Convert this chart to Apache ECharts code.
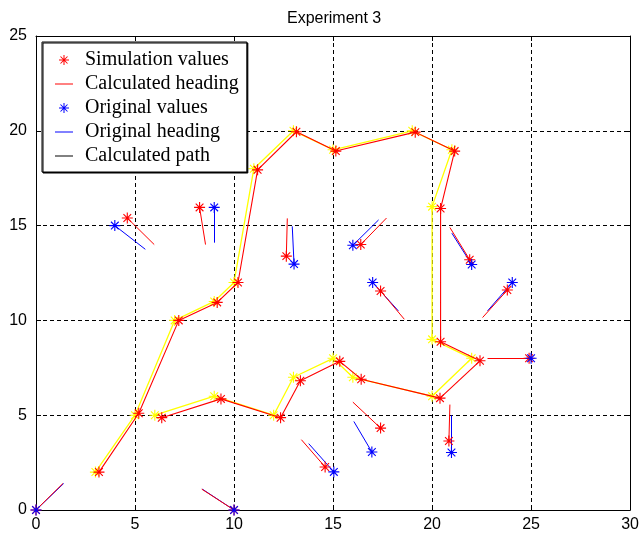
<!DOCTYPE html>
<html><head><meta charset="utf-8">
<script src="https://cdn.jsdelivr.net/npm/echarts@6/dist/echarts.min.js"></script>
<style>html,body{margin:0;padding:0;background:#fff}#c{width:642px;height:535px}</style>
</head><body><div id="c"></div>
<script>
const xTicks = [0, 5, 10, 15, 20, 25, 30];
const yTicks = [0, 5, 10, 15, 20, 25];

// Calculated path (yellow)
const pathX = [3, 5, 7, 9, 10, 11, 13, 15, 19, 21, 20, 20, 22, 20, 16, 15, 13, 12, 9, 6];
const pathY = [2, 5, 10, 11, 12, 18, 20, 19, 20, 19, 16, 9, 8, 6, 7, 8, 7, 5, 6, 5];

// Simulated path (red, joined)
const simPathX = [3.18, 5.19, 7.21, 9.15, 10.2, 11.19, 13.15, 15.14, 19.15, 21.14, 20.43, 20.43, 22.42, 20.4, 16.42, 15.34, 13.35, 12.35, 9.34, 6.35];
const simPathY = [2.0, 5.1, 10.0, 10.95, 12.0, 17.94, 19.95, 18.93, 19.93, 18.93, 15.9, 8.87, 7.87, 5.9, 6.9, 7.84, 6.82, 4.87, 5.86, 4.87];

// Simulation values (isolated) and their calculated heading ends
const simX = [4.61, 8.26, 12.64, 16.4, 21.9, 17.4, 23.8, 17.4, 14.6, 20.85, 24.9, 0, 10];
const simY = [15.4, 15.96, 13.39, 14.0, 13.2, 11.55, 11.6, 4.32, 2.27, 3.64, 8.0, 0, 0];
const simHeadX = [5.97, 8.56, 12.69, 17.7, 20.9, 18.6, 22.55, 16.0, 13.4, 20.9, 22.8, 1.36, 8.37];
const simHeadY = [14.0, 14.0, 15.38, 15.4, 14.9, 10.06, 10.15, 5.69, 3.71, 5.56, 8.0, 1.4, 1.1];

// Original values and original heading ends
const origX = [3.98, 9.0, 13.03, 16.0, 22.0, 17.0, 24.05, 16.96, 15.04, 20.98, 25, 0, 10];
const origY = [15.0, 15.96, 12.97, 13.96, 12.95, 12.0, 12.0, 3.06, 2.01, 3.03, 8, 0, 0];
const origHeadX = [5.52, 9.0, 12.94, 17.3, 21.0, 18.3, 22.8, 16.05, 13.77, 20.98, 23.0, 1.4, 8.4];
const origHeadY = [13.75, 14.1, 14.96, 15.3, 14.6, 10.5, 10.5, 4.67, 3.5, 4.99, 8.0, 1.4, 1.1];

const STAR = 'path://M-0.5,-5L0.5,-5L0.5,5L-0.5,5Z' +
  'M-5,-0.5L5,-0.5L5,0.5L-5,0.5Z' +
  'M-3.854,-3.146L-3.146,-3.854L3.854,3.146L3.146,3.854Z' +
  'M-3.146,3.854L-3.854,3.146L3.146,-3.854L3.854,-3.146Z';
const LINE = 'path://M0,0L20,0L20,1.1L0,1.1Z';

const zip = (a, b) => a.map((v, i) => [v, b[i]]);
const segs = (x0, y0, x1, y1) => x0.map((v, i) => ({ coords: [[v, y0[i]], [x1[i], y1[i]]] }));

const axisCommon = {
  type: 'value', min: 0,
  axisLine: { show: true, onZero: false, lineStyle: { color: '#000', width: 1 } },
  axisTick: { show: true, inside: true, length: 5, lineStyle: { color: '#000' } }
};
const labelStyle = { color: '#000', fontSize: 16, fontFamily: 'Liberation Sans, Arial, sans-serif' };
const legendItem = (name, icon, color) => ({ name, icon, itemStyle: { color, borderWidth: 0, opacity: 1 } });

const chart = echarts.init(document.getElementById('c'));
chart.setOption({
  animation: false,
  backgroundColor: '#fff',
  title: {
    text: 'Experiment 3', left: 282, top: 6,
    textStyle: { fontSize: 16, fontWeight: 'normal', color: '#000', fontFamily: 'Liberation Sans, Arial, sans-serif' }
  },
  grid: { left: 36, right: 3, top: 36, bottom: 25, containLabel: false },
  legend: {
    orient: 'vertical', left: 42, top: 42,
    padding: [8, 8, 6, 13], itemGap: 4, itemWidth: 18, itemHeight: 10,
    borderColor: '#000', borderWidth: 1, backgroundColor: '#fff',
    shadowColor: '#000', shadowOffsetX: 1, shadowOffsetY: 1, shadowBlur: 0,
    selectedMode: false,
    textStyle: { fontFamily: 'Liberation Serif, Times New Roman, serif', fontSize: 20, color: '#000', padding: [0, 0, 0, 7] },
    data: [
      legendItem('Simulation values', STAR, '#ff0000'),
      legendItem('Calculated heading', LINE, '#ff0000'),
      legendItem('Original values', STAR, '#0000ff'),
      legendItem('Original heading', LINE, '#0000ff'),
      legendItem('Calculated path', LINE, '#000000')
    ]
  },
  xAxis: [
    Object.assign({}, axisCommon, {
      position: 'bottom', max: xTicks[xTicks.length - 1], interval: xTicks[1] - xTicks[0],
      axisLabel: Object.assign({ margin: 7, showMaxLabel: true }, labelStyle),
      splitLine: { show: true, lineStyle: { color: '#000', type: [4, 3], width: 1 } }
    }),
    Object.assign({}, axisCommon, {
      position: 'top', max: xTicks[xTicks.length - 1], interval: xTicks[1] - xTicks[0],
      axisLabel: { show: false }, splitLine: { show: false }
    })
  ],
  yAxis: [
    Object.assign({}, axisCommon, {
      position: 'left', max: yTicks[yTicks.length - 1], interval: yTicks[1] - yTicks[0],
      axisLabel: Object.assign({ margin: 9 }, labelStyle),
      splitLine: { show: true, lineStyle: { color: '#000', type: [4, 3], width: 1 } }
    }),
    Object.assign({}, axisCommon, {
      position: 'right', max: yTicks[yTicks.length - 1], interval: yTicks[1] - yTicks[0],
      axisLabel: { show: false }, splitLine: { show: false }
    })
  ],
  series: [
    {
      name: 'Calculated path', type: 'line', data: zip(pathX, pathY),
      lineStyle: { color: '#ffff00', width: 1.3 }, itemStyle: { color: '#ffff00' },
      symbol: STAR, symbolSize: 11, showAllSymbol: true, z: 2
    },
    {
      name: 'Simulated path', type: 'line', data: zip(simPathX, simPathY),
      lineStyle: { color: '#ff0000', width: 1.1 }, itemStyle: { color: '#ff0000' },
      symbol: STAR, symbolSize: 11, showAllSymbol: true, z: 3
    },
    {
      name: 'Original heading', type: 'lines', coordinateSystem: 'cartesian2d',
      data: segs(origX, origY, origHeadX, origHeadY),
      lineStyle: { color: '#0000ff', width: 1, opacity: 1 }, z: 3
    },
    {
      name: 'Calculated heading', type: 'lines', coordinateSystem: 'cartesian2d',
      data: segs(simX, simY, simHeadX, simHeadY),
      lineStyle: { color: '#ff0000', width: 1, opacity: 1 }, z: 4
    },
    {
      name: 'Simulation values', type: 'scatter', data: zip(simX, simY),
      symbol: STAR, symbolSize: 11, itemStyle: { color: '#ff0000', opacity: 1 }, z: 5
    },
    {
      name: 'Original values', type: 'scatter', data: zip(origX, origY),
      symbol: STAR, symbolSize: 11, itemStyle: { color: '#0000ff', opacity: 1 }, z: 6
    }
  ]
});
</script></body></html>
